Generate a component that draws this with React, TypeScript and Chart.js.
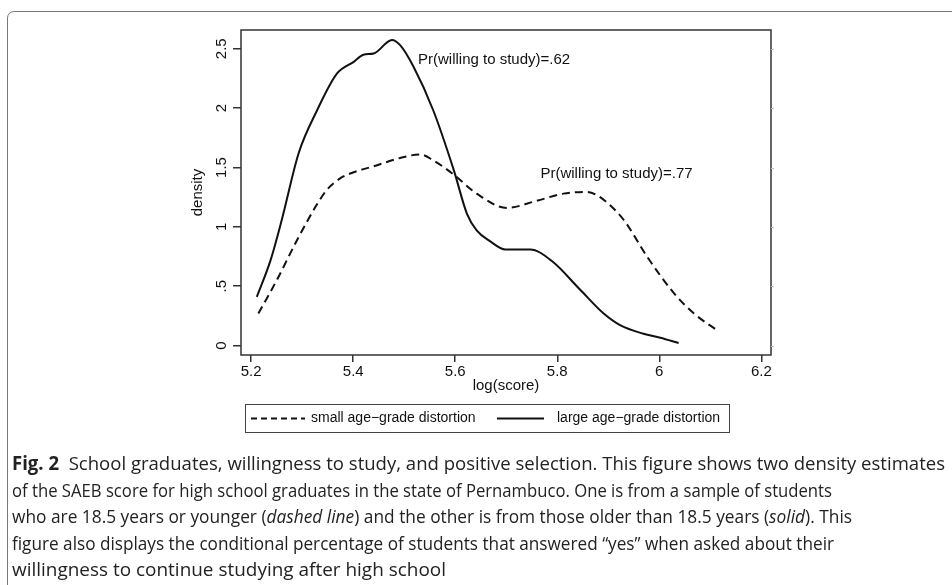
import React, { useEffect, useLayoutEffect, useRef } from 'react';
import { Chart, registerables } from 'chart.js';

Chart.register(...registerables);

// ---------- data ----------
const SMALL_X = [5.214, 5.25, 5.29, 5.329, 5.348, 5.375, 5.401, 5.44, 5.492, 5.531, 5.557, 5.597, 5.642, 5.701, 5.76, 5.812, 5.858, 5.884, 5.93, 5.976, 6.029, 6.068, 6.113];
const SMALL_Y = [0.27, 0.55, 0.89, 1.19, 1.31, 1.41, 1.46, 1.51, 1.58, 1.61, 1.56, 1.44, 1.28, 1.16, 1.22, 1.28, 1.295, 1.25, 1.06, 0.75, 0.44, 0.27, 0.13];

const LARGE_X = [5.211, 5.238, 5.26, 5.293, 5.329, 5.368, 5.401, 5.42, 5.44, 5.476, 5.492, 5.518, 5.557, 5.597, 5.623, 5.642, 5.668, 5.698, 5.747, 5.79, 5.845, 5.891, 5.924, 5.969, 6.002, 6.038];
const LARGE_Y = [0.41, 0.72, 1.06, 1.62, 1.98, 2.29, 2.39, 2.45, 2.46, 2.574, 2.53, 2.35, 1.98, 1.48, 1.11, 0.97, 0.88, 0.81, 0.81, 0.71, 0.47, 0.27, 0.17, 0.1, 0.067, 0.022];

const X_TICKS = [5.2, 5.4, 5.6, 5.8, 6.0, 6.2];
const X_TICK_LABELS = ['5.2', '5.4', '5.6', '5.8', '6', '6.2'];
const Y_TICKS = [0, 0.5, 1, 1.5, 2, 2.5];
const Y_TICK_LABELS = ['0', '.5', '1', '1.5', '2', '2.5'];

const SERIES_LABELS = ['small age\u2212grade distortion', 'large age\u2212grade distortion'];
const ANNOT_TEXTS = ['Pr(willing to study)=.62', 'Pr(willing to study)=.77'];
const ANNOT_X = [5.527, 5.767];
const ANNOT_Y = [2.405, 1.45];
const X_TITLE = 'log(score)';
const Y_TITLE = 'density';

type Seg = { t: string; b?: boolean; i?: boolean };
const CAPTION_LINES: Seg[][] = [
  [{ t: 'Fig. 2', b: true }, { t: '\u00a0 School graduates, willingness to study, and positive selection. This figure shows two density estimates' }],
  [{ t: 'of the SAEB score for high school graduates in the state of Pernambuco. One is from a sample of students' }],
  [{ t: 'who are 18.5 years or younger (' }, { t: 'dashed line', i: true }, { t: ') and the other is from those older than 18.5 years (' }, { t: 'solid', i: true }, { t: '). This' }],
  [{ t: 'figure also displays the conditional percentage of students that answered \u201cyes\u201d when asked about their' }],
  [{ t: 'willingness to continue studying after high school' }],
];
const CAPTION_WIDTHS = [933, 820, 840, 822, 434];

// ---------- styling ----------
const FONT = '"Liberation Sans", Arial, Helvetica, sans-serif';
const INK = '#111';
const AXIS = '#333';

const overlay = {
  id: 'overlay',
  afterDraw(chart: any) {
    const { ctx, chartArea: a, scales } = chart;
    const xs = scales.x;
    const ys = scales.y;
    ctx.save();
    // plot frame
    ctx.strokeStyle = AXIS;
    ctx.lineWidth = 1.5;
    ctx.strokeRect(a.left, a.top, a.right - a.left, a.bottom - a.top);
    // faint right-side ticks
    ctx.strokeStyle = '#bbb';
    ctx.lineWidth = 1;
    Y_TICKS.forEach((v) => {
      const py = Math.round(ys.getPixelForValue(v)) + 0.5;
      ctx.beginPath();
      ctx.moveTo(a.right, py);
      ctx.lineTo(a.right + 3, py);
      ctx.stroke();
    });
    // annotations
    ctx.fillStyle = INK;
    ctx.font = `15px ${FONT}`;
    ctx.textAlign = 'left';
    ctx.textBaseline = 'middle';
    ANNOT_TEXTS.forEach((t, i) => {
      ctx.fillText(t, xs.getPixelForValue(ANNOT_X[i]), ys.getPixelForValue(ANNOT_Y[i]));
    });
    // axis titles
    ctx.textAlign = 'center';
    ctx.fillText(X_TITLE, (a.left + a.right) / 2, a.bottom + 31);
    ctx.save();
    ctx.translate(a.left - 43, (a.top + a.bottom) / 2);
    ctx.rotate(-Math.PI / 2);
    ctx.fillText(Y_TITLE, 0, 0);
    ctx.restore();
    // legend
    const lx = 245, ly = 404, lw = 484, lh = 28;
    ctx.strokeStyle = '#444';
    ctx.lineWidth = 1;
    ctx.strokeRect(lx + 0.5, ly + 0.5, lw, lh);
    const cy = ly + lh / 2 + 0.5;
    ctx.strokeStyle = INK;
    ctx.lineWidth = 2;
    ctx.setLineDash([6, 4]);
    ctx.beginPath();
    ctx.moveTo(251, cy);
    ctx.lineTo(305, cy);
    ctx.stroke();
    ctx.setLineDash([]);
    ctx.beginPath();
    ctx.moveTo(497, cy);
    ctx.lineTo(544, cy);
    ctx.stroke();
    ctx.font = `14px ${FONT}`;
    ctx.textAlign = 'left';
    ctx.fillText(SERIES_LABELS[0], 311, cy);
    ctx.fillText(SERIES_LABELS[1], 557, cy);
    ctx.restore();
  },
};

function pick(labels: string[], ticks: number[], v: number) {
  const i = ticks.findIndex((t) => Math.abs(t - v) < 1e-6);
  return i >= 0 ? labels[i] : '';
}

function ChartCanvas() {
  const ref = useRef<HTMLCanvasElement>(null);
  useEffect(() => {
    if (!ref.current) return;
    const small = SMALL_X.map((x, i) => ({ x, y: SMALL_Y[i] }));
    const large = LARGE_X.map((x, i) => ({ x, y: LARGE_Y[i] }));
    const chart = new Chart(ref.current, {
      type: 'line',
      data: {
        datasets: [
          { label: SERIES_LABELS[0], data: small, borderColor: INK, borderWidth: 2, borderDash: [8, 5], pointRadius: 0, cubicInterpolationMode: 'monotone', fill: false },
          { label: SERIES_LABELS[1], data: large, borderColor: INK, borderWidth: 2, pointRadius: 0, cubicInterpolationMode: 'monotone', fill: false },
        ],
      },
      options: {
        responsive: false,
        animation: false,
        devicePixelRatio: 1,
        layout: { padding: { left: 201, top: 30, right: 181, bottom: 185 } },
        plugins: { legend: { display: false }, tooltip: { enabled: false } },
        scales: {
          x: {
            type: 'linear',
            min: 5.18,
            max: 6.219,
            afterBuildTicks: (s: any) => { s.ticks = X_TICKS.map((v) => ({ value: v })); },
            afterFit: (s: any) => { s.height = 45; },
            ticks: { callback: (v: any) => pick(X_TICK_LABELS, X_TICKS, Number(v)), font: { family: FONT, size: 15 }, color: INK, padding: 1, maxRotation: 0, minRotation: 0, autoSkip: false },
            grid: { drawOnChartArea: false, drawTicks: true, tickLength: 7, color: AXIS, lineWidth: 1.5 },
            border: { display: false },
          },
          y: {
            type: 'linear',
            min: -0.079,
            max: 2.658,
            afterBuildTicks: (s: any) => { s.ticks = Y_TICKS.map((v) => ({ value: v })); },
            afterFit: (s: any) => { s.width = 40; },
            ticks: { callback: (v: any) => pick(Y_TICK_LABELS, Y_TICKS, Number(v)), font: { family: FONT, size: 15 }, color: INK, padding: 1, minRotation: 90, maxRotation: 90, crossAlign: 'center', autoSkip: false },
            grid: { drawOnChartArea: false, drawTicks: true, tickLength: 8, color: AXIS, lineWidth: 1.5 },
            border: { display: false },
          },
        },
      },
      plugins: [overlay],
    } as any);
    return () => chart.destroy();
  }, []);
  return <canvas ref={ref} width={952} height={585} style={{ position: 'absolute', left: 0, top: 0 }} />;
}

function Caption() {
  const refs = useRef<(HTMLSpanElement | null)[]>([]);
  useLayoutEffect(() => {
    refs.current.forEach((el, i) => {
      if (!el) return;
      el.style.transform = 'none';
      const w = el.getBoundingClientRect().width;
      if (w > 0) el.style.transform = `scaleX(${CAPTION_WIDTHS[i] / w})`;
    });
  }, []);
  const CAP_TOPS = [451, 477.5, 504, 530.5, 557];
  return (
    <>
      {CAPTION_LINES.map((line, i) => (
        <span
          key={i}
          ref={(el) => { refs.current[i] = el; }}
          style={{
            position: 'absolute', left: 12, top: CAP_TOPS[i], whiteSpace: 'nowrap', transformOrigin: '0 0',
            fontFamily: '"Open Sans", "Noto Sans", sans-serif',
            fontSize: 19, lineHeight: '24px', color: '#222',
          }}
        >
          {line.map((s, j) => (
            <span key={j} style={{ fontWeight: s.b ? 700 : 400, fontStyle: s.i ? 'italic' : 'normal' }}>{s.t}</span>
          ))}
        </span>
      ))}
    </>
  );
}

export default function App() {
  useEffect(() => {
    document.body.style.margin = '0';
  }, []);
  return (
    <div style={{ position: 'relative', width: 952, height: 585, overflow: 'hidden', background: '#fff' }}>
      <div style={{ position: 'absolute', left: 7, top: 11, width: 1100, height: 1000, border: '1.5px solid #777', borderTopLeftRadius: 7, boxSizing: 'border-box' }} />
      <ChartCanvas />
      <Caption />
    </div>
  );
}
